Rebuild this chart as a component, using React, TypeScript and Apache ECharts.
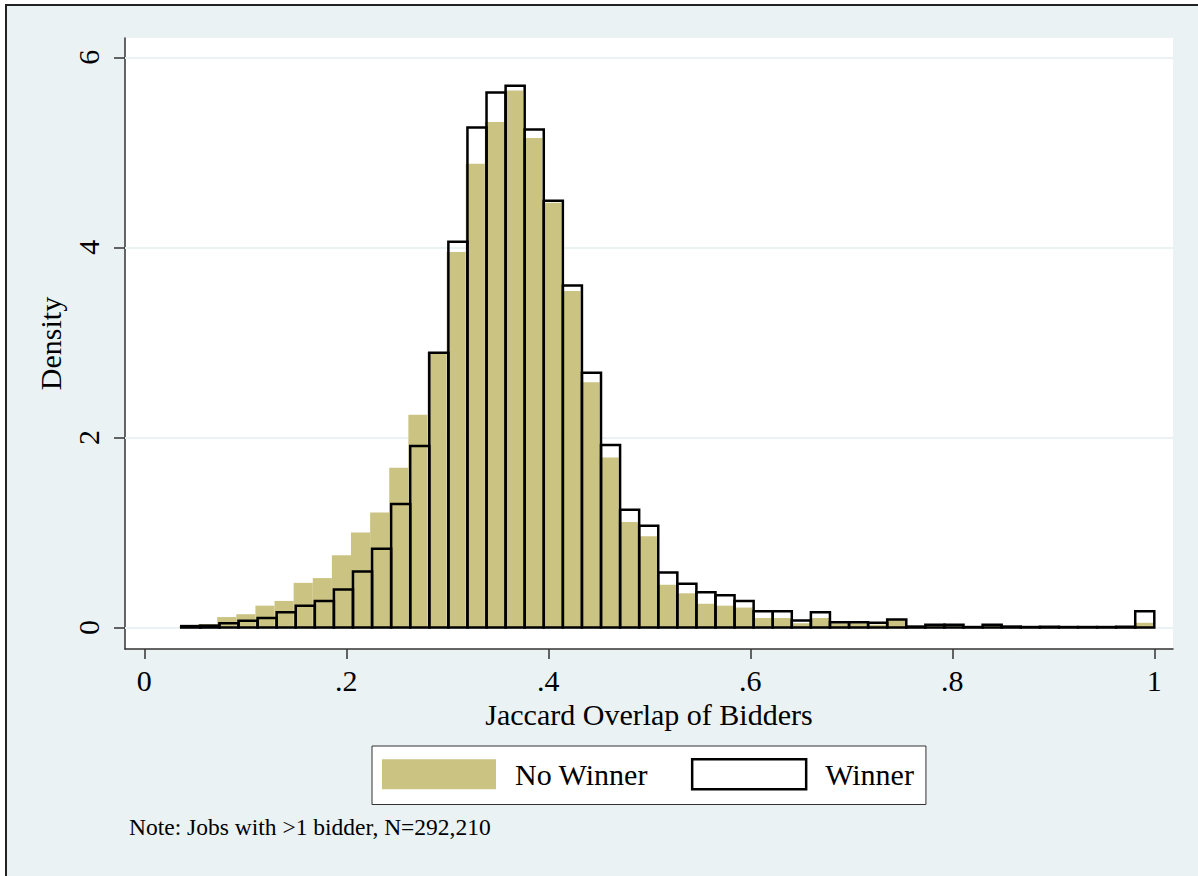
import React, { useEffect, useRef } from "react";
import * as echarts from "echarts";

// Histogram bins (Stata-style: start + 51 equal-width bins)
const noWinnerStart = 0.0343;
const noWinnerWidth = 0.01893;
const noWinnerDensity = [
  0.01, 0.035, 0.11, 0.14, 0.23, 0.28, 0.47, 0.52, 0.76, 1.0,
  1.21, 1.68, 2.24, 2.9, 3.95, 4.88, 5.32, 5.65, 5.15, 4.47,
  3.54, 2.58, 1.79, 1.11, 0.96, 0.45, 0.36, 0.25, 0.23, 0.21,
  0.1, 0.1, 0.045, 0.1, 0.045, 0.045, 0.03, 0.08, 0.01, 0.015,
  0.015, 0.005, 0.015, 0.005, 0.005, 0.005, 0.005, 0.005, 0.005, 0.005,
  0.05,
];

const winnerStart = 0.0366;
const winnerWidth = 0.01889;
const winnerDensity = [
  0.015, 0.02, 0.045, 0.07, 0.1, 0.16, 0.23, 0.28, 0.4, 0.59,
  0.83, 1.3, 1.91, 2.89, 4.06, 5.26, 5.63, 5.7, 5.24, 4.49,
  3.6, 2.68, 1.92, 1.24, 1.07, 0.58, 0.46, 0.37, 0.34, 0.28,
  0.17, 0.17, 0.075, 0.16, 0.056, 0.056, 0.05, 0.084, 0.01, 0.03,
  0.03, 0.005, 0.03, 0.01, 0.005, 0.008, 0.005, 0.005, 0.005, 0.008,
  0.17,
];

const xTicks = [0, 0.2, 0.4, 0.6, 0.8, 1];
const yTicks = [0, 2, 4, 6];
const seriesNames = ["No Winner", "Winner"];
const xTitle = "Jaccard Overlap of Bidders";
const yTitle = "Density";
const noteText = "Note: Jobs with >1 bidder, N=292,210";

const FONT = "'Liberation Serif', 'Times New Roman', serif";
const KHAKI = "#CBC382";
const BG = "#EAF2F3";
const FS = 30;

function toBins(start: number, width: number, vals: number[]) {
  return vals.map((v, i) => [start + i * width, start + (i + 1) * width, v]);
}

function makeRender(fill: string, stroke: string, lw: number) {
  return (params: any, api: any) => {
    const x0 = api.value(0);
    const x1 = api.value(1);
    const y = api.value(2);
    const p0 = api.coord([x0, y]);
    const p1 = api.coord([x1, 0]);
    return {
      type: "rect",
      shape: { x: p0[0], y: p0[1], width: p1[0] - p0[0], height: p1[1] - p0[1] },
      style: { fill, stroke, lineWidth: lw },
    };
  };
}

const fmtX = (v: number) => {
  if (v === 0) return "0";
  if (v === 1) return "1";
  return String(v).replace(/^0/, "");
};

export default function App() {
  const ref = useRef<HTMLDivElement>(null);
  useEffect(() => {
    if (!ref.current) return;
    const chart = echarts.init(ref.current, null, { renderer: "svg" });
    const option: any = {
      animation: false,
      backgroundColor: "#ffffff",
      textStyle: { fontFamily: FONT },
      graphic: [
        {
          type: "rect",
          z: -100,
          silent: true,
          shape: { x: 6, y: 5, width: 1200, height: 880 },
          style: { fill: BG, stroke: "#222", lineWidth: 2 },
        },
      ],
      title: {
        text: noteText,
        left: 129,
        top: 815,
        padding: 0,
        textStyle: { fontFamily: FONT, fontSize: 23.5, fontWeight: "normal", color: "#000" },
      },
      grid: {
        left: 125,
        right: 25,
        top: 38,
        bottom: 227,
        show: true,
        backgroundColor: "#ffffff",
        borderWidth: 0,
      },
      legend: {
        left: 372,
        top: 746,
        orient: "horizontal",
        selectedMode: false,
        backgroundColor: "#ffffff",
        borderColor: "#333",
        borderWidth: 1,
        borderRadius: 0,
        padding: [12, 12, 14, 10],
        itemWidth: 114,
        itemHeight: 30,
        itemGap: 43,
        textStyle: {
          fontFamily: FONT,
          fontSize: FS,
          color: "#000",
          lineHeight: 30,
          padding: [0, 0, 0, 14],
        },
        data: [
          { name: seriesNames[0], icon: "rect", itemStyle: { color: KHAKI, borderWidth: 0 } },
          {
            name: seriesNames[1],
            icon: "rect",
            itemStyle: { color: "#ffffff", borderColor: "#000", borderWidth: 2.5 },
          },
        ],
      },
      xAxis: {
        type: "value",
        min: -0.0191,
        max: 1.0185,
        name: xTitle,
        nameLocation: "middle",
        nameGap: 47,
        nameTextStyle: { fontFamily: FONT, fontSize: FS, color: "#000" },
        axisLine: { show: true, onZero: false, lineStyle: { color: "#333", width: 1.5 } },
        axisTick: { show: true, length: 10, customValues: xTicks, lineStyle: { color: "#333", width: 1.5 } },
        axisLabel: {
          customValues: xTicks,
          formatter: fmtX,
          fontFamily: FONT,
          fontSize: FS,
          color: "#000",
          margin: 16,
        },
        splitLine: { show: false },
      },
      yAxis: {
        type: "value",
        min: -0.226,
        max: 6.203,
        name: yTitle,
        nameLocation: "middle",
        nameRotate: 90,
        nameGap: 54,
        nameTextStyle: { fontFamily: FONT, fontSize: FS, color: "#000" },
        axisLine: { show: true, onZero: false, lineStyle: { color: "#333", width: 1.5 } },
        axisTick: { show: true, length: 11, customValues: yTicks, lineStyle: { color: "#333", width: 1.5 } },
        axisLabel: {
          customValues: yTicks,
          rotate: 90,
          fontFamily: FONT,
          fontSize: FS,
          color: "#000",
          margin: 22,
        },
        splitLine: { show: false },
      },
      series: [
        {
          type: "custom",
          name: seriesNames[0],
          z: 10,
          renderItem: makeRender(KHAKI, "none", 0),
          encode: { x: [0, 1], y: 2 },
          itemStyle: { color: KHAKI },
          data: toBins(noWinnerStart, noWinnerWidth, noWinnerDensity),
          markLine: {
            silent: true,
            symbol: ["none", "none"],
            z: 1,
            label: { show: false },
            lineStyle: { color: BG, width: 2, type: "solid" },
            data: yTicks.map((v) => ({ yAxis: v })),
          },
        },
        {
          type: "custom",
          name: seriesNames[1],
          z: 11,
          renderItem: makeRender("none", "#000", 2.5),
          encode: { x: [0, 1], y: 2 },
          itemStyle: { color: "#ffffff", borderColor: "#000" },
          data: toBins(winnerStart, winnerWidth, winnerDensity),
        },
      ],
    };
    chart.setOption(option);
    return () => chart.dispose();
  }, []);
  return (
    <div
      ref={ref}
      style={{ position: "fixed", left: 0, top: 0, width: 1198, height: 876 }}
    />
  );
}
